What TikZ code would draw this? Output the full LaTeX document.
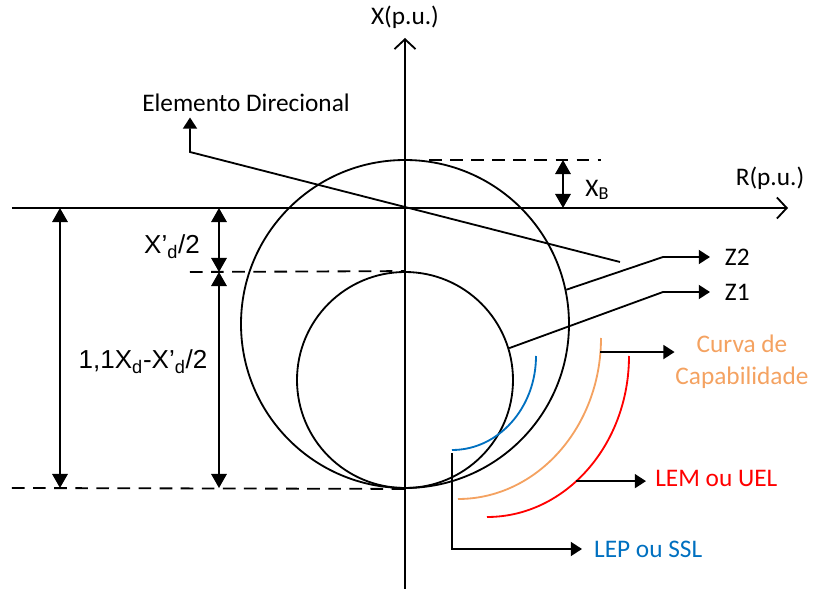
\documentclass[tikz,border=0pt]{standalone}
\usepackage{fontspec}
\setmainfont{Carlito}
\newfontfamily\arialfont{Liberation Sans}
\usetikzlibrary{arrows.meta,calc}
\definecolor{capcolor}{RGB}{244,162,97}
\definecolor{lepcolor}{RGB}{0,112,192}
\definecolor{lemcolor}{RGB}{255,0,0}
\newcommand{\lowsub}[1]{\raisebox{-2pt}{\fontsize{13}{15}\selectfont #1}}

\begin{document}
\begin{tikzpicture}[
    font=\fontsize{18}{21}\selectfont,
    line width=1.3pt,
    axis/.style={-{Straight Barb[length=7pt,width=15pt]}},
    dim/.style={{Triangle[length=10pt,width=11pt]}-{Triangle[length=10pt,width=11pt]}},
    guide/.style={dash pattern=on 9pt off 6pt},
    ptr/.style={-{Triangle[length=8pt,width=10pt]}},
    circ/.style={draw, circle, inner sep=0pt},
    dimlbl/.style={font=\arialfont\fontsize{18.5}{22}\selectfont},
]
\useasboundingbox (-10.125,5.2) rectangle (10.225,-9.525);

% Impedance circles
\node[circ, minimum size=8.2cm] (Zbig) at (0,-2.9) {};
\node[circ, minimum size=5.4cm] (Zsmall) at (0,-4.3) {};

% Axes
\coordinate (Xbot) at (0,-9.6);
\coordinate (Xtop) at (0,4.25);
\coordinate (Rleft) at (-9.825,0);
\coordinate (Rright) at (9.575,0);
\draw[axis] (Xbot) -- (Xtop);
\draw[axis] (Rleft) -- (Rright);
\node (lX) at (0,4.775) {X(p.u.)};
\node (lR) at (9.125,0.75) {R(p.u.)};

% Guide lines and dimensions
\draw[guide] (0.6,1.2) -- (4.9,1.2);
\draw[guide] (-5.375,-1.6) -- (Zsmall.north);
\draw[guide] (-9.825,-7) -- (Zbig.south);
\draw[dim] (3.95,1.2) -- (3.95,0);
\draw[dim] (-8.625,0) -- (-8.625,-7);
\draw[dim] (-4.65,0) -- (-4.65,-1.6);
\draw[dim] (-4.65,-1.6) -- (-4.65,-7);
\node (lXB) at (4.8,0.45) {X\lowsub{B}};
\node[dimlbl] (lXd) at (-5.825,-0.975) {X’\textsubscript{d}/2};
\node[dimlbl] (lXdiff) at (-6.55,-3.85) {1,1X\textsubscript{d}-X’\textsubscript{d}/2};

% Directional element
\node (lElem) at (-3.975,2.625) {Elemento Direcional};
\coordinate (eEnd) at (5.375,-1.35);
\coordinate (eKnee) at (-5.375,1.4);
\draw[ptr] (eEnd) -- (eKnee) -- (eKnee |- lElem.south);

% Z1 and Z2
\node[anchor=west, inner xsep=10pt] (lZ2) at (7.625,-1.225) {Z2};
\node[anchor=west, inner xsep=10pt] (lZ1) at (7.625,-2.1) {Z1};
\coordinate (kZ2) at (6.45,-1.225);
\coordinate (kZ1) at (6.45,-2.1);
\draw[ptr] (Zbig.12.5) -- (kZ2) -- (lZ2.west);
\draw[ptr] (Zsmall.17) -- (kZ1) -- (lZ1.west);

% Limit curves
\coordinate (oLEP) at (1.175,-3.7);
\coordinate (oCap) at (1.325,-3.25);
\coordinate (oLEM) at (2.05,-3.7);
\draw[lepcolor] ($(oLEP)+(2.1,0)$) arc[start angle=0, end angle=-90, x radius=2.1, y radius=2.35];
\draw[capcolor] ($(oCap)+(3.575,0)$) arc[start angle=0, end angle=-90, x radius=3.575, y radius=4.025];
\draw[lemcolor] ($(oLEM)+(3.55,0)$) arc[start angle=0, end angle=-90, x radius=3.55, y radius=4.025];

\node[text=capcolor, align=center, inner sep=0pt] (lCap) at (8.425,-3.85) {Curva de\\[2pt]Capabilidade};
\node[text=lemcolor, anchor=west, inner xsep=6pt] (lLEM) at (6.025,-6.75) {LEM ou UEL};
\node[text=lepcolor, anchor=west, inner xsep=8pt] (lLEP) at (4.425,-8.525) {LEP ou SSL};
\coordinate (pCap) at ($(oCap)+(-5:3.575cm and 4.025cm)$);
\coordinate (pLEM) at ($(oLEM)+(-51:3.55cm and 4.025cm)$);
\coordinate (pLEP) at (1.175,-6.125);
\draw[ptr] (pCap) -- (pCap -| lCap.west);
\draw[ptr] (pLEM) -- (pLEM -| lLEM.west);
\draw[ptr] (pLEP) -- (pLEP |- lLEP.west) -- (lLEP.west);
\end{tikzpicture}
\end{document}
